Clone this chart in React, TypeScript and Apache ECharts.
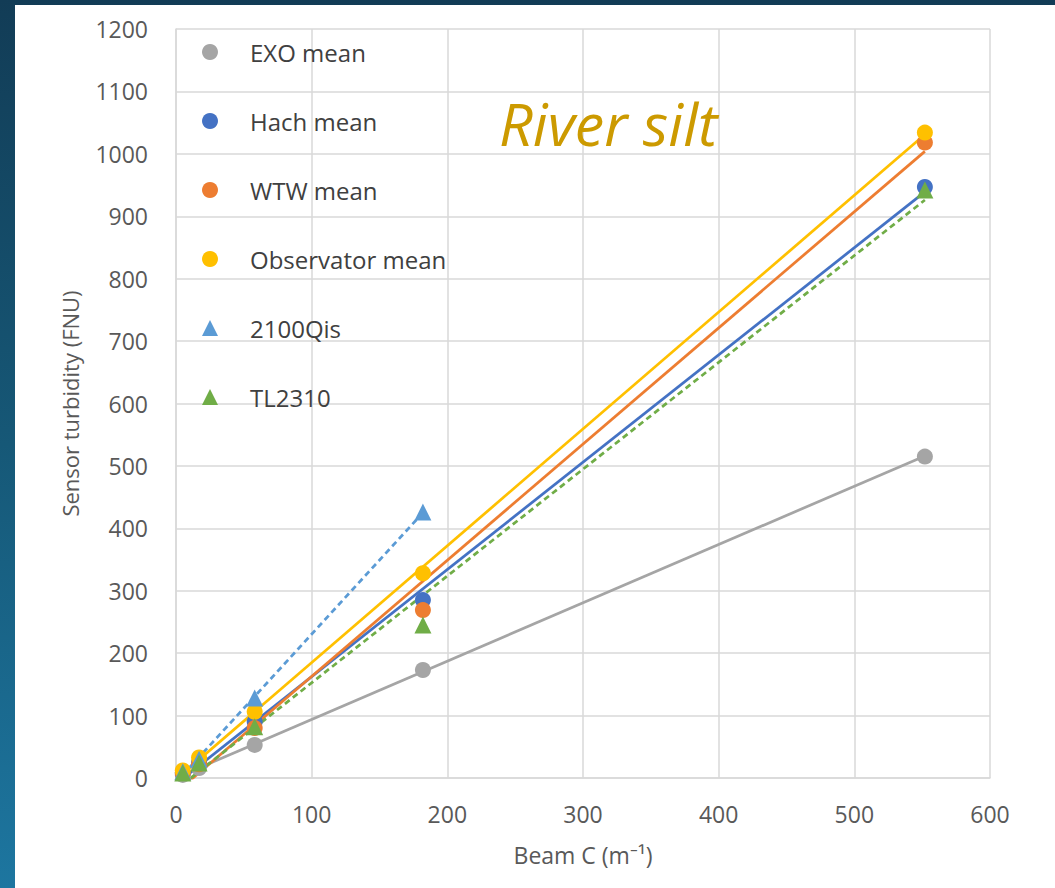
import React, { useEffect, useRef } from "react";
import * as echarts from "echarts";

// Beam C values (m^-1)
const beamC = [5, 17, 58, 182, 552];
const qisBeamC = [5, 17, 58, 182];

// Sensor turbidity (FNU)
const exoMean = [5, 16, 53, 173, 515];
const hachMean = [8, 25, 90, 285, 947];
const wtwMean = [8, 22, 80, 269, 1018];
const observatorMean = [12, 33, 106, 328, 1034];
const qis2100 = [10, 30, 128, 426];
const tl2310 = [8, 24, 82, 245, 942];

// Trend line endpoints
const exoTrend = [[5, 5], [552, 516]];
const hachTrend = [[5, -1], [552, 939]];
const wtwTrend = [[5, -14], [552, 1004]];
const observatorTrend = [[5, 7], [552, 1031]];
const qisTrend = [[5, 5], [182, 425]];
const tlTrend = [[5, -10], [552, 926]];

const xTicks = [0, 100, 200, 300, 400, 500, 600];
const yTicks = [0, 100, 200, 300, 400, 500, 600, 700, 800, 900, 1000, 1100, 1200];

const seriesNames = ["EXO mean", "Hach mean", "WTW mean", "Observator mean", "2100Qis", "TL2310"];
const colors = ["#a5a5a5", "#4472c4", "#ed7d31", "#ffc000", "#5b9bd5", "#70ad47"];

const FONT = "'Open Sans', 'Noto Sans', sans-serif";

function pairs(xs: number[], ys: number[]) {
  return xs.map((x, i) => [x, ys[i]]);
}

export default function App() {
  const ref = useRef<HTMLDivElement>(null);

  useEffect(() => {
    if (!ref.current) return;
    const chart = echarts.init(ref.current, undefined, { renderer: "svg" });
    const pointSets = [
      pairs(beamC, exoMean),
      pairs(beamC, hachMean),
      pairs(beamC, wtwMean),
      pairs(beamC, observatorMean),
      pairs(qisBeamC, qis2100),
      pairs(beamC, tl2310),
    ];
    const trends = [exoTrend, hachTrend, wtwTrend, observatorTrend, qisTrend, tlTrend];
    const dashed = [false, false, false, false, true, true];
    const symbols = ["circle", "circle", "circle", "circle", "triangle", "triangle"];

    const lineSeries = trends.map((t, i) => ({
      name: seriesNames[i] + " trend",
      type: "line",
      data: t,
      symbol: "none",
      clip: true,
      z: 2,
      lineStyle: {
        color: colors[i],
        width: 2.75,
        type: dashed[i] ? [6, 4] : "solid",
      },
      silent: true,
    }));

    const scatterSeries = pointSets.map((p, i) => ({
      name: seriesNames[i],
      type: "scatter",
      data: p,
      symbol: symbols[i],
      symbolSize: symbols[i] === "triangle" ? 17 : 16,
      itemStyle: { color: colors[i], opacity: 1 },
      z: 3,
    }));

    chart.setOption({
      animation: false,
      backgroundColor: "#ffffff",
      grid: { left: 161, right: 65, top: 24, bottom: 110 },
      legend: {
        data: seriesNames.map((n, i) => ({ name: n, icon: symbols[i] })),
        orient: "vertical",
        left: 182,
        top: 30,
        itemWidth: 16,
        itemHeight: 16,
        itemGap: 45,
        textStyle: {
          fontFamily: FONT,
          fontSize: 24,
          color: "#404040",
          lineHeight: 24,
          padding: [0, 0, 0, 27],
        },
        selectedMode: false,
      },
      xAxis: {
        type: "value",
        min: xTicks[0],
        max: xTicks[xTicks.length - 1],
        interval: 100,
        name: "Beam C (m⁻¹)",
        nameLocation: "middle",
        nameGap: 65,
        nameTextStyle: { fontFamily: FONT, fontSize: 23, color: "#595959" },
        axisLine: { show: true, lineStyle: { color: "#d9d9d9", width: 1.5 } },
        axisTick: { show: false },
        axisLabel: { fontFamily: FONT, fontSize: 23, color: "#595959", margin: 24, formatter: (v: number) => String(v) },
        splitLine: { show: true, lineStyle: { color: "#d9d9d9", width: 1.5 } },
      },
      yAxis: {
        type: "value",
        min: yTicks[0],
        max: yTicks[yTicks.length - 1],
        interval: 100,
        name: "Sensor turbidity (FNU)",
        nameLocation: "middle",
        nameGap: 95,
        nameTextStyle: { fontFamily: FONT, fontSize: 22, color: "#595959" },
        axisLine: { show: true, lineStyle: { color: "#d9d9d9", width: 1.5 } },
        axisTick: { show: false },
        axisLabel: { fontFamily: FONT, fontSize: 23, color: "#595959", margin: 28, formatter: (v: number) => String(v) },
        splitLine: { show: true, lineStyle: { color: "#d9d9d9", width: 1.5 } },
      },
      graphic: [
        {
          type: "text",
          left: 484,
          top: 88,
          style: {
            text: "River silt",
            fontFamily: FONT,
            fontStyle: "italic",
            fontSize: 59,
            fill: "#cc9a00",
          },
          z: 10,
        },
      ],
      series: [...lineSeries, ...scatterSeries],
    });
    return () => chart.dispose();
  }, []);

  return (
    <div
      style={{
        position: "fixed",
        left: 0,
        top: 0,
        width: 1055,
        height: 888,
        background: "linear-gradient(to bottom, #123c56 0%, #165877 50%, #1d76a0 100%)",
      }}
    >
      <div
        ref={ref}
        style={{ position: "absolute", left: 15, top: 5, width: 1040, height: 883, background: "#fff" }}
      />
    </div>
  );
}
